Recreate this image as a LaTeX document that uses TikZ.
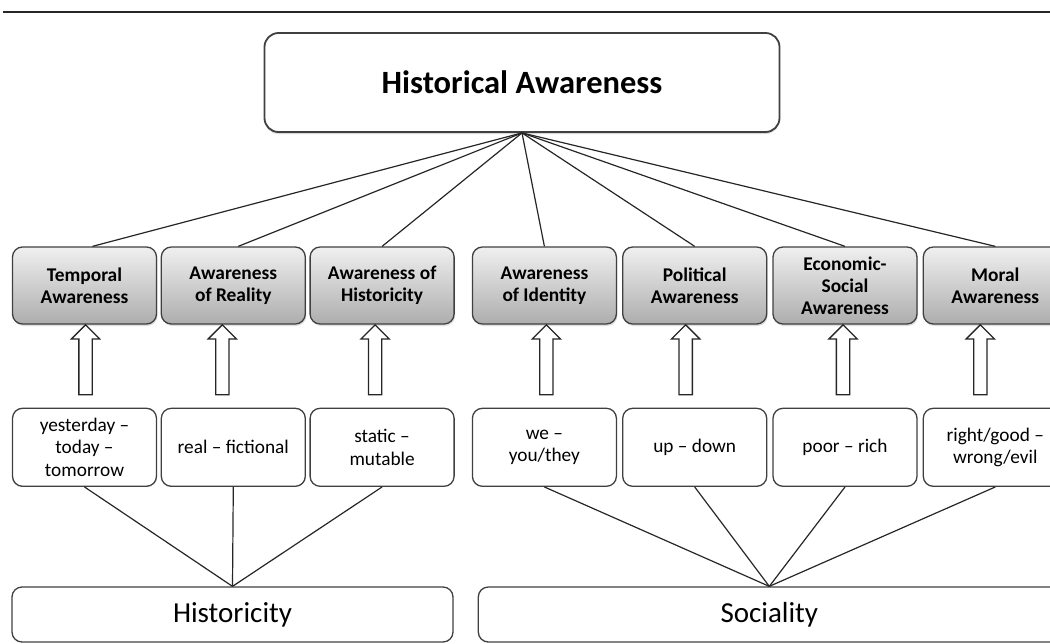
\documentclass[tikz,border=0pt]{standalone}
\usepackage{fontspec}
\setmainfont{Carlito}
\usetikzlibrary{calc,shapes.arrows,shadows}
\usetikzlibrary{positioning}

\begin{document}
\begin{tikzpicture}[x=1pt,y=-1pt,
    box/.style={draw=black!75, line width=1.3pt, rounded corners=10pt, minimum width=144pt, align=center, inner sep=0pt},
    aw/.style={box, minimum height=77pt, top color=black!6, bottom color=black!32, font=\fontsize{19.4}{22}\selectfont\bfseries, drop shadow={opacity=0.25, shadow xshift=1pt, shadow yshift=-2pt}},
    pole/.style={box, minimum height=78pt, fill=white, font=\fontsize{19.3}{22.5}\selectfont},
    base/.style={box, minimum height=55pt, font=\fontsize{29}{34}\selectfont},
    uparrow/.style={single arrow, draw=black!85, line width=1.3pt, fill=white, shape border rotate=90, minimum height=70pt, inner sep=6pt, single arrow head extend=7.5pt, single arrow tip angle=90},
    link/.style={draw=black!85, line width=1.2pt}]
    \useasboundingbox (0,0) rectangle (1050,643);
    \clip (0,0) rectangle (1050,643);
    \draw[line width=1.5pt, black!85] (3,12) -- (1050,12);

    \node[box, minimum width=515pt, minimum height=99pt, rounded corners=14pt, line width=1.8pt, fill=white, font=\fontsize{32.5}{38}\selectfont\bfseries, drop shadow={opacity=0.3, shadow xshift=0pt, shadow yshift=-2pt}] (HA) at (522,82.5) {Historical Awareness};

    \node[aw] (A1) at (84.5,285.5) {Temporal\\Awareness};
    \node[aw, right=3.5pt of A1] (A2) {Awareness\\of Reality};
    \node[aw, right=3.5pt of A2] (A3) {Awareness of\\Historicity};
    \node[aw, right=17pt of A3] (A4) {Awareness\\of Identity};
    \node[aw, right=5pt of A4] (A5) {Political\\Awareness};
    \node[aw, right=5pt of A5] (A6) {Economic-\\Social\\Awareness};
    \node[aw, right=5pt of A6] (A7) {Moral\\Awareness};

    \node[pole, below=83pt of A1] (P1) {yesterday --\\today --\\tomorrow};
    \node[pole, below=83pt of A2] (P2) {real -- fictional};
    \node[pole, below=83pt of A3] (P3) {static --\\mutable};
    \node[pole, below=83pt of A4] (P4) {we --\\you/they};
    \node[pole, below=83pt of A5] (P5) {up -- down};
    \node[pole, below=83pt of A6] (P6) {poor -- rich};
    \node[pole, below=83pt of A7] (P7) {right/good --\\wrong/evil};

    \node[base, minimum width=441pt] (H) at (232.5,614.5) {Historicity};
    \node[base, minimum width=582pt, right=24pt of H] (S) {Sociality};

    % arrows between the two rows
    \foreach \i/\dx in {1/1,2/-11,3/-7,4/2,5/-9,6/-2,7/-15}
      \node[uparrow] (U\i) at ($(P\i.north)!0.5!(A\i.south)+(\dx,-3)$) {};

    \path[link]
    (HA.south) edge ($(A1.north)+(8,0)$)
    (HA.south) edge ($(A2.north)+(5,0)$)
    (HA.south) edge (A3.north)
    (HA.south) edge (A4.north)
    (HA.south) edge (A5.north)
    (HA.south) edge (A6.north)
    (HA.south) edge (A7.north)
    ;

    \path[link]
    (P1.south) edge (H.north)
    (P2.south) edge (H.north)
    (P3.south) edge (H.north)
    (P4.south) edge (S.north)
    (P5.south) edge (S.north)
    (P6.south) edge (S.north)
    (P7.south) edge (S.north)
    ;
\end{tikzpicture}
\end{document}
